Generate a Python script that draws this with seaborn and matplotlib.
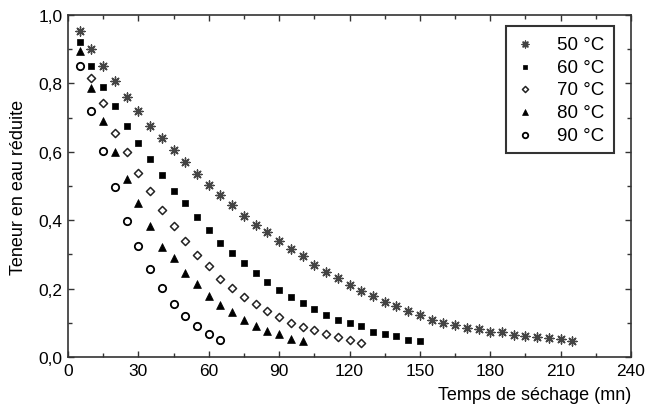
import matplotlib
matplotlib.use("Agg")
import matplotlib.pyplot as plt
import seaborn as sns
import numpy as np
import pandas as pd
from matplotlib.ticker import MultipleLocator, FuncFormatter

# ---- data ----
t50 = list(range(5, 220, 5))
v50 = [0.952, 0.902, 0.852, 0.807, 0.760, 0.718, 0.674, 0.641, 0.604, 0.570,
       0.535, 0.504, 0.473, 0.444, 0.412, 0.385, 0.366, 0.340, 0.316, 0.294,
       0.268, 0.248, 0.232, 0.210, 0.192, 0.177, 0.160, 0.149, 0.135, 0.122,
       0.109, 0.100, 0.093, 0.085, 0.083, 0.073, 0.072, 0.065, 0.060, 0.058,
       0.057, 0.054, 0.047]
t60 = list(range(5, 155, 5))
v60 = [0.920, 0.852, 0.790, 0.733, 0.676, 0.625, 0.578, 0.533, 0.485, 0.449,
       0.408, 0.371, 0.333, 0.303, 0.274, 0.245, 0.218, 0.196, 0.175, 0.157,
       0.140, 0.124, 0.109, 0.099, 0.092, 0.072, 0.068, 0.061, 0.051, 0.048]
t70 = list(range(10, 130, 5))
v70 = [0.817, 0.742, 0.654, 0.599, 0.537, 0.484, 0.429, 0.382, 0.340, 0.298,
       0.265, 0.228, 0.203, 0.176, 0.155, 0.134, 0.118, 0.100, 0.088, 0.079,
       0.068, 0.058, 0.051, 0.042]
t80 = list(range(5, 105, 5))
v80 = [0.896, 0.786, 0.690, 0.598, 0.520, 0.450, 0.382, 0.321, 0.289, 0.246,
       0.212, 0.178, 0.153, 0.133, 0.108, 0.090, 0.075, 0.067, 0.053, 0.046]
t90 = list(range(5, 70, 5))
v90 = [0.852, 0.720, 0.603, 0.498, 0.399, 0.324, 0.257, 0.202, 0.155, 0.121,
       0.092, 0.067, 0.050]
labels = ["50 °C", "60 °C", "70 °C", "80 °C", "90 °C"]

sns.set_style("ticks")
plt.rcParams['font.family'] = ['Liberation Sans', 'DejaVu Sans']
plt.rcParams['text.color'] = 'black'
plt.rcParams['axes.labelcolor'] = 'black'
plt.rcParams['xtick.labelcolor'] = 'black'
plt.rcParams['ytick.labelcolor'] = 'black'

fig = plt.figure(figsize=(6.45, 4.1), dpi=100)
ax = fig.add_axes([68/645, 1-358/410, (631-68)/645, (358-16)/410])

series = [
    (t50, v50, labels[0], dict(marker=(8, 2, 0), s=42, color="#444444", linewidth=1.0)),
    (t60, v60, labels[1], dict(marker="s", s=22, color="black", edgecolor="black", linewidth=0.5)),
    (t70, v70, labels[2], dict(marker="D", s=17, facecolor="white", edgecolor="#222222", linewidth=1.1)),
    (t80, v80, labels[3], dict(marker="^", s=32, color="black", edgecolor="black", linewidth=0.5)),
    (t90, v90, labels[4], dict(marker="o", s=28, facecolor="white", edgecolor="black", linewidth=1.3)),
]
for t, v, lab, kw in series:
    df = pd.DataFrame({"t": t, "v": v})
    sns.scatterplot(data=df, x="t", y="v", ax=ax, label=lab, **kw)

ax.set_xlim(0, 240)
ax.set_ylim(0, 1.0)
ax.xaxis.set_major_locator(MultipleLocator(30))
ax.xaxis.set_minor_locator(MultipleLocator(15))
ax.yaxis.set_major_locator(MultipleLocator(0.2))
ax.yaxis.set_minor_locator(MultipleLocator(0.1))
ax.yaxis.set_major_formatter(FuncFormatter(lambda y, p: f"{y:.1f}".replace(".", ",")))
ax.tick_params(which="both", direction="in", top=True, right=True, color="#333333")
ax.tick_params(which="major", length=4, width=1, labelsize=12.5, pad=4)
ax.tick_params(which="minor", length=3, width=1)
for sp in ax.spines.values():
    sp.set_color("#333333")
    sp.set_linewidth(1.2)

ax.set_xlabel("Temps de séchage (mn)", fontsize=13)
ax.xaxis.set_label_coords(1.0, -0.085)
ax.xaxis.label.set_horizontalalignment("right")
ax.set_ylabel("Teneur en eau réduite", fontsize=13)
ax.yaxis.set_label_coords(-0.073, 0.5)

leg = ax.legend(loc="upper right", bbox_to_anchor=(0.97, 0.967), fontsize=13.5,
                frameon=True, fancybox=False, edgecolor="black", borderpad=0.5,
                handlelength=1.0, handletextpad=1.25, labelspacing=0.3,
                borderaxespad=0, markerscale=0.75)
leg.get_frame().set_linewidth(1.5)

fig.savefig("out.png", dpi=100)
